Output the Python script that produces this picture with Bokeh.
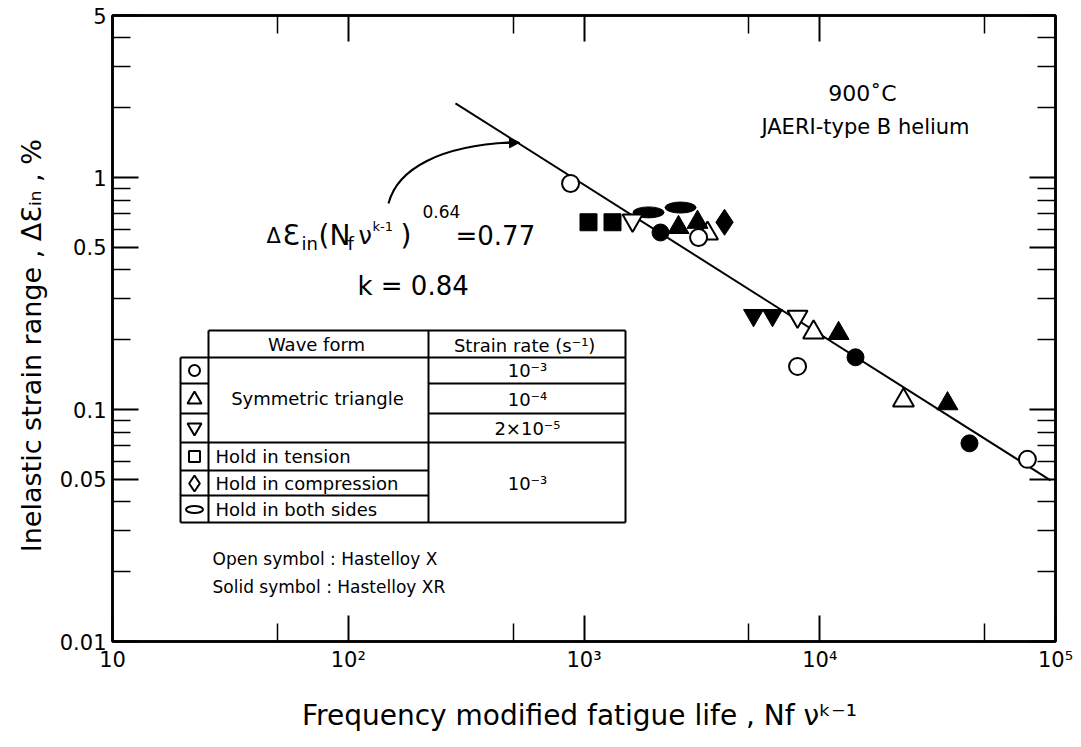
import numpy as np
from bokeh.plotting import figure
from bokeh.models import LogAxis, FixedTicker, Range1d, Arrow, NormalHead
from bokeh.core.properties import value
from bokeh.embed import file_html
from bokeh.resources import INLINE

# ---------------- data ----------------
# Hastelloy X (open symbols)
x_open_circle = [877, 3062, 8050, 76000]          # symmetric triangle, 1e-3
y_open_circle = [0.944, 0.552, 0.1535, 0.061]
x_open_tri = [3342, 9415, 22650]                   # symmetric triangle, 1e-4
y_open_tri = [0.574, 0.215, 0.1096]
x_open_itri = [1607, 8050]                         # symmetric triangle, 2e-5
y_open_itri = [0.654, 0.252]

# Hastelloy XR (solid symbols)
x_solid_circle = [2111, 14180, 43160]
y_solid_circle = [0.580, 0.168, 0.0715]
x_solid_tri = [2517, 3030, 12020, 34830]
y_solid_tri = [0.610, 0.642, 0.213, 0.106]
x_solid_itri = [5237, 6305]
y_solid_itri = [0.255, 0.255]
x_solid_square = [1045, 1321]                      # hold in tension
y_solid_square = [0.642, 0.642]
x_solid_diamond = [3945]                           # hold in compression
y_solid_diamond = [0.642]
x_solid_ellipse = [1879, 2567]                     # hold in both sides
y_solid_ellipse = [0.708, 0.743]

# fitted line  d_eps_in (Nf v^(k-1))^0.64 = 0.77
fit_x = [285, 95300]
fit_y = [2.09, 0.0495]

x_ticks = [10, 100, 1000, 10000, 100000]
x_tick_labels = ["10", "10²", "10³", "10⁴", "10⁵"]
x_minor = [50, 500, 5000, 50000]
y_ticks = [0.01, 0.05, 0.1, 0.5, 1, 5]
y_tick_labels = ["0.01", "0.05", "0.1", "0.5", "1", "5"]
y_minor = [0.02, 0.03, 0.04, 0.06, 0.07, 0.08, 0.09,
           0.2, 0.3, 0.4, 0.6, 0.7, 0.8, 0.9, 2, 3, 4]

# ---------------- layout ----------------
FONT = "DejaVu Sans"
W, H = 1081, 747
FL, FR, FT, FB = 112, 1055, 15, 641
X0, X1 = 10, 1e5
Y0, Y1 = 0.01, 5


def px(xp, yp):
    """reference pixel position -> data position (for annotations)"""
    lx = np.log10(X0) + (xp - FL) / (FR - FL) * (np.log10(X1) - np.log10(X0))
    ly = np.log10(Y1) - (yp - FT) / (FB - FT) * (np.log10(Y1) - np.log10(Y0))
    return float(10 ** lx), float(10 ** ly)


p = figure(width=W, height=H, x_axis_type="log", y_axis_type="log",
           x_range=Range1d(X0, X1), y_range=Range1d(Y0, Y1),
           output_backend="svg", toolbar_location=None,
           min_border_left=FL, min_border_right=W - FR,
           min_border_top=FT, min_border_bottom=H - FB)
p.grid.visible = False
p.outline_line_color = "black"
p.outline_line_width = 2.5
p.background_fill_color = "white"
p.border_fill_color = "white"


def style_axis(ax, labels=True):
    ax.axis_line_width = 2.5
    ax.axis_line_color = "black"
    ax.major_tick_in = 26
    ax.major_tick_out = 0
    ax.minor_tick_in = 18
    ax.minor_tick_out = 0
    ax.major_tick_line_width = 2
    ax.minor_tick_line_width = 1.5
    ax.major_tick_line_color = "black"
    ax.minor_tick_line_color = "black"
    ax.major_label_text_font = FONT
    ax.major_label_text_font_size = "21px"
    ax.major_label_text_color = "black"
    ax.axis_label_text_font = FONT
    ax.axis_label_text_color = "black"
    ax.axis_label_text_font_style = "normal"
    if not labels:
        ax.major_label_text_alpha = 0
        ax.major_label_text_font_size = "1px"
        ax.major_label_standoff = 0


xt = FixedTicker(ticks=x_ticks, minor_ticks=x_minor)
yt = FixedTicker(ticks=y_ticks, minor_ticks=y_minor)

bx = p.xaxis[0]
bx.ticker = xt
bx.major_label_overrides = {t: l for t, l in zip(x_ticks, x_tick_labels)}
style_axis(bx)
bx.major_label_standoff = 6
bx.axis_label = "Frequency modified fatigue life ,  Nf νᵏ⁻¹"
bx.axis_label_text_font_size = "28px"
bx.axis_label_standoff = 24

ly = p.yaxis[0]
ly.ticker = yt
ly.major_label_overrides = {t: l for t, l in zip(y_ticks, y_tick_labels)}
style_axis(ly)
ly.major_label_standoff = 6
ly.axis_label = "Inelastic strain range  ,  ΔƐᵢₙ  ,  %"
ly.axis_label_text_font_size = "27px"
ly.axis_label_standoff = 10

top = LogAxis(ticker=FixedTicker(ticks=x_ticks, minor_ticks=x_minor))
style_axis(top, labels=False)
p.add_layout(top, "above")
right = LogAxis(ticker=FixedTicker(ticks=y_ticks, minor_ticks=y_minor))
style_axis(right, labels=False)
p.add_layout(right, "right")

# ---------------- fitted line ----------------
p.line(fit_x, fit_y, line_color="black", line_width=2)

# ---------------- data markers ----------------
open_kw = dict(fill_color="white", line_color="black", line_width=2)
solid_kw = dict(fill_color="black", line_color="black", line_width=1)

p.scatter(x_solid_square, y_solid_square, marker="square", size=17, **solid_kw)
p.ellipse(x_solid_ellipse, y_solid_ellipse, width=31, height=11,
          width_units="screen", height_units="screen", **solid_kw)
p.scatter(x_open_itri, y_open_itri, marker="inverted_triangle", size=20, **open_kw)
p.scatter(x_solid_itri, y_solid_itri, marker="inverted_triangle", size=20, **solid_kw)
p.scatter(x_open_tri, y_open_tri, marker="triangle", size=21, **open_kw)
p.scatter(x_solid_circle, y_solid_circle, marker="circle", size=17, **solid_kw)
p.scatter(x_solid_tri, y_solid_tri, marker="triangle", size=21, **solid_kw)
p.scatter(x_open_circle, y_open_circle, marker="circle", size=17, **open_kw)
p.scatter(x_solid_diamond, y_solid_diamond, marker="diamond", size=26, **solid_kw)

# ---------------- text helpers ----------------


def txt(xp, yp, s, size, align="left", baseline="middle"):
    x, y = px(xp, yp)
    p.text(x=[x], y=[y], text=[s], text_font=value(FONT), text_font_size=size,
           text_align=align, text_baseline=baseline, text_color="black")


# title block
txt(862, 93, "900˚C", "22px", align="center")
txt(865, 126, "JAERI-type B helium", "21px", align="center")

# formula
txt(266, 235, "Δ", "21px", baseline="alphabetic")
txt(282, 235, "Ɛ", "28px", baseline="alphabetic")
txt(301, 243, "in", "18px", baseline="alphabetic")
txt(318, 235, "(N", "28px", baseline="alphabetic")
txt(347, 243, "f", "18px", baseline="alphabetic")
txt(358, 235, "ν", "24px", baseline="alphabetic")
txt(372, 226, "k-1", "13px", baseline="alphabetic")
txt(400, 235, ")", "28px", baseline="alphabetic")
txt(422, 211, "0.64", "17px", baseline="alphabetic")
txt(455, 235, "=0.77", "26px", baseline="alphabetic")
txt(357, 285, "k = 0.84", "26px", baseline="alphabetic")

# curved leader to the line
sx, sy = px(388, 203)
c0x, c0y = px(397, 168)
c1x, c1y = px(440, 145)
ex, ey = px(512, 142)
p.bezier(x0=[sx], y0=[sy], x1=[ex], y1=[ey], cx0=[c0x], cy0=[c0y],
         cx1=[c1x], cy1=[c1y], line_color="black", line_width=2)
ax0, ay0 = px(500, 142.5)
ax1, ay1 = px(519, 142)
p.add_layout(Arrow(end=NormalHead(size=10, fill_color="black", line_color="black"),
                   x_start=ax0, y_start=ay0, x_end=ax1, y_end=ay1,
                   line_color="black", line_width=2))

# ---------------- table ----------------
segs = [
    ((208, 330), (625, 330)),
    ((180, 357), (625, 357)),
    ((180, 357), (180, 522)),
    ((208, 330), (208, 522)),
    ((428, 330), (428, 522)),
    ((625, 330), (625, 522)),
    ((180, 522), (625, 522)),
    ((180, 383), (208, 383)),
    ((180, 413), (208, 413)),
    ((428, 383), (625, 383)),
    ((428, 413), (625, 413)),
    ((180, 442), (625, 442)),
    ((180, 470), (428, 470)),
    ((180, 495), (428, 495)),
]
x0s, y0s, x1s, y1s = [], [], [], []
for (a, b), (c, d) in segs:
    u0, v0 = px(a, b)
    u1, v1 = px(c, d)
    x0s.append(u0); y0s.append(v0); x1s.append(u1); y1s.append(v1)
p.segment(x0=x0s, y0=y0s, x1=x1s, y1=y1s, line_color="black", line_width=2)

txt(316, 344, "Wave form", "18px", align="center")
txt(527, 345, "Strain rate  (s⁻¹)", "18px", align="center")
txt(317, 398, "Symmetric triangle", "18px", align="center")
txt(527, 370, "10⁻³", "18px", align="center")
txt(527, 399, "10⁻⁴", "18px", align="center")
txt(527, 428, "2×10⁻⁵", "18px", align="center")
txt(527, 483, "10⁻³", "18px", align="center")
txt(215, 456, "Hold in tension", "18px")
txt(215, 483, "Hold in compression", "18px")
txt(215, 509, "Hold in both sides", "18px")

# legend symbols
lx = px(194, 370)[0]
for marker, yy, sz in [("circle", 370, 11), ("triangle", 399, 14),
                       ("inverted_triangle", 427, 14), ("square", 456, 11),
                       ("diamond", 483, 16)]:
    p.scatter([lx], [px(194, yy)[1]], marker=marker, size=sz,
              fill_color="white", line_color="black", line_width=2)
p.ellipse([lx], [px(194, 509)[1]], width=17, height=7, width_units="screen",
          height_units="screen", fill_color="white", line_color="black", line_width=2)

txt(212, 558, "Open symbol : Hastelloy X", "17px")
txt(212, 586, "Solid symbol : Hastelloy XR", "17px")

open("out.html", "w").write(file_html(p, INLINE))
